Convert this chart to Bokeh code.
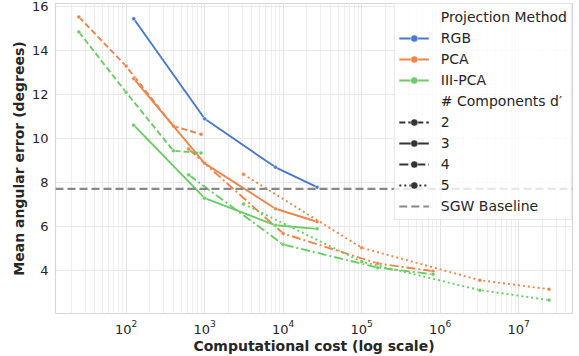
from bokeh.plotting import figure
from bokeh.models import Span, Legend, LegendItem, LogTicker, FixedTicker, Range1d, ColumnDataSource
from bokeh.embed import file_html
from bokeh.resources import INLINE

# ---- data ----
methods = ["RGB", "PCA", "III-PCA"]
components = ["2", "3", "4", "5"]

cost_d2 = [25, 100, 400, 900]
cost_d3 = [125, 1000, 8000, 27000]
cost_d4 = [625, 10000, 160000, 810000]
cost_d5 = [3125, 100000, 3200000, 24300000]

rgb_d3 = [15.44, 10.9, 8.7, 7.8]
pca_d2 = [15.52, 13.29, 10.57, 10.2]
pca_d3 = [12.72, 8.88, 6.82, 6.23]
pca_d4 = [9.53, 5.7, 4.34, 3.99]
pca_d5 = [8.38, 5.05, 3.58, 3.17]
ipca_d2 = [14.84, 12.1, 9.45, 9.35]
ipca_d3 = [10.61, 7.30, 6.07, 5.91]
ipca_d4 = [8.36, 5.2, 4.15, 3.85]
ipca_d5 = [7.04, 4.42, 3.13, 2.68]

sgw_baseline = 7.72
y_ticks = [4, 6, 8, 10, 12, 14, 16]

# ---- styles ----
colors = {"RGB": "#4878d0", "PCA": "#ee854a", "III-PCA": "#6acc64"}
dashes = {"2": "6 3", "3": "solid", "4": "9 3 2 3", "5": "2 3"}
FONT = "DejaVu Sans"
TXT = "#262626"
NAN = float("nan")

series = [
    ("RGB", "3", cost_d3, rgb_d3),
    ("PCA", "2", cost_d2, pca_d2),
    ("PCA", "3", cost_d3, pca_d3),
    ("PCA", "4", cost_d4, pca_d4),
    ("PCA", "5", cost_d5, pca_d5),
    ("III-PCA", "2", cost_d2, ipca_d2),
    ("III-PCA", "3", cost_d3, ipca_d3),
    ("III-PCA", "4", cost_d4, ipca_d4),
    ("III-PCA", "5", cost_d5, ipca_d5),
]

p = figure(width=579, height=356, x_axis_type="log",
           x_range=Range1d(12.6, 4.84e7), y_range=Range1d(2.07, 16.13),
           output_backend="svg", toolbar_location=None,
           min_border_left=55, min_border_right=7, min_border_top=3, min_border_bottom=40)

p.background_fill_color = "white"
p.border_fill_color = "white"
p.outline_line_color = "#d6d6d6"
p.outline_line_width = 1.2

# grids
p.xgrid.grid_line_color = "#e3e3e3"
p.xgrid.minor_grid_line_color = "#eeeeee"
p.ygrid.grid_line_color = "#e8e8e8"
p.xaxis.ticker = LogTicker(num_minor_ticks=10)
p.yaxis.ticker = FixedTicker(ticks=y_ticks)

for ax in (p.xaxis, p.yaxis):
    ax.axis_line_color = None
    ax.major_tick_line_color = None
    ax.minor_tick_line_color = None
    ax.major_tick_out = 0
    ax.major_tick_in = 0
    ax.minor_tick_out = 0
    ax.minor_tick_in = 0
    ax.major_label_text_font = FONT
    ax.major_label_text_font_size = "13px"
    ax.major_label_text_color = TXT
    ax.axis_label_text_font = FONT
    ax.axis_label_text_font_size = "14px"
    ax.axis_label_text_font_style = "bold"
    ax.axis_label_text_color = TXT
p.xaxis.axis_label = "Computational cost (log scale)"
p.yaxis.axis_label = "Mean angular error (degrees)"
p.xaxis.major_label_standoff = 6
p.xaxis.axis_label_standoff = 1
p.yaxis.major_label_standoff = 7
p.yaxis.axis_label_standoff = 2

# baseline
p.add_layout(Span(location=sgw_baseline, dimension="width", line_color="#888888",
                  line_width=2.2, line_dash="8 4"))

for m, d, xs, ys in series:
    src = ColumnDataSource(dict(x=xs, y=ys))
    p.line("x", "y", source=src, line_color=colors[m], line_width=1.9, line_dash=dashes[d])
    p.scatter("x", "y", source=src, size=4, fill_color=colors[m],
              line_color="white", line_width=0.5)

# ---- legend ----
def dummy_line(color, dash, alpha=1.0, width=1.9):
    return p.line(x=[NAN], y=[NAN], line_color=color, line_dash=dash, line_width=width, line_alpha=alpha)

def dummy_dot(color):
    return p.scatter(x=[NAN], y=[NAN], size=4, fill_color=color, line_color="white", line_width=0.5)

items = []
items.append(LegendItem(label="Projection Method", renderers=[dummy_line("white", "solid", 0.0)]))
for m in methods:
    items.append(LegendItem(label=m, renderers=[dummy_line(colors[m], "solid"), dummy_dot(colors[m])]))
items.append(LegendItem(label="# Components d\u2032", renderers=[dummy_line("white", "solid", 0.0)]))
for d in components:
    items.append(LegendItem(label=d, renderers=[dummy_line("#333333", dashes[d]), dummy_dot("#333333")]))
items.append(LegendItem(label="SGW Baseline", renderers=[dummy_line("#888888", "8 4", 1.0, 2.2)]))

legend = Legend(items=items, location="top_right")
legend.label_text_font = FONT
legend.label_text_font_size = "14px"
legend.label_text_color = TXT
legend.glyph_width = 30
legend.glyph_height = 18
legend.label_height = 18
legend.spacing = 3
legend.padding = 4
legend.margin = 0
legend.label_standoff = 12
legend.border_line_color = "#d0d0d0"
legend.background_fill_alpha = 0.8
p.add_layout(legend, "center")

open("out.html", "w").write(file_html(p, INLINE))
